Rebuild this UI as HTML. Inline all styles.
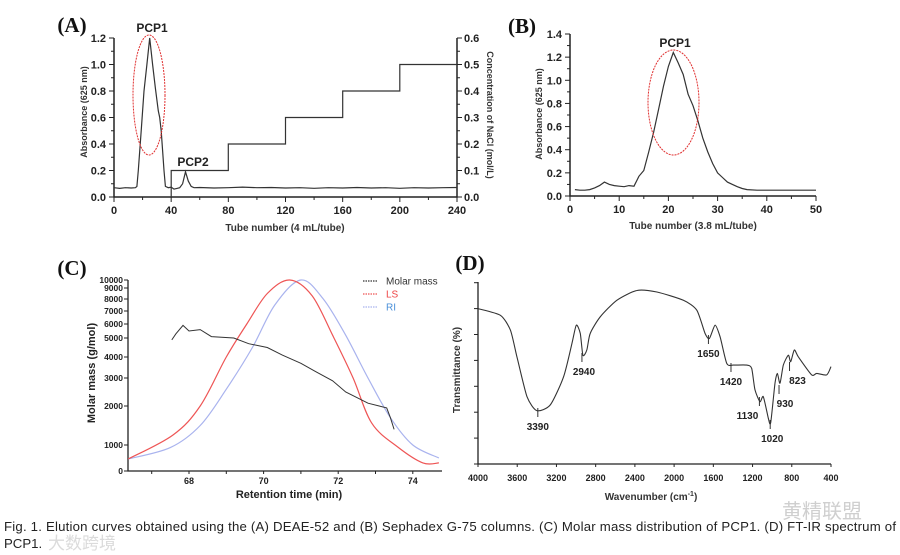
<!DOCTYPE html>
<html><head><meta charset="utf-8"><style>
html,body{margin:0;padding:0;background:#fff;}
svg{display:block;font-family:"Liberation Sans",Arial,sans-serif;}
.t{font-size:11px;font-weight:bold;fill:#222;}
.ti{font-size:10px;font-weight:bold;fill:#333;}
.pl{font-family:"Liberation Serif",serif;font-size:21px;font-weight:bold;fill:#111;}
</style></head><body>
<svg id="fig" width="900" height="555" viewBox="0 0 900 555" xmlns="http://www.w3.org/2000/svg"></svg>
<script>
// ---------- Panel A data ----------
const aTubes = [0,4,8,12,15,16,17,19,21,23,25,27,29,31,32,33,34,35,36,38,40,42,44,46,48,50,52,54,56,60,70,80,90,100,110,120,130,140,150,160,170,180,190,200,210,220,230,240];
const aAbs   = [0.07,0.065,0.07,0.068,0.07,0.08,0.2,0.5,0.8,1.0,1.2,1.0,0.82,0.65,0.6,0.5,0.35,0.2,0.08,0.07,0.075,0.06,0.065,0.07,0.1,0.19,0.12,0.08,0.07,0.072,0.068,0.07,0.075,0.07,0.072,0.068,0.07,0.066,0.07,0.068,0.072,0.068,0.07,0.066,0.07,0.068,0.07,0.072];
const aNaclTubes = [40,40,80,80,120,120,160,160,200,200,240];
const aNacl      = [0,0.1,0.1,0.2,0.2,0.3,0.3,0.4,0.4,0.5,0.5];
const aXTicks = [0,40,80,120,160,200,240];
const aYTicks = [0,0.2,0.4,0.6,0.8,1.0,1.2];
const aY2Ticks = [0,0.1,0.2,0.3,0.4,0.5,0.6];
// ---------- Panel B data ----------
const bTubes = [1,2,3,4,5,6,7,8,9,10,11,12,13,14,15,16,17,18,19,20,21,22,23,24,25,26,27,28,29,30,31,32,33,34,35,36,38,40,42,44,46,48,50];
const bAbs   = [0.055,0.05,0.05,0.055,0.07,0.09,0.12,0.1,0.09,0.085,0.08,0.09,0.085,0.17,0.22,0.38,0.55,0.75,0.95,1.12,1.24,1.15,1.05,0.88,0.78,0.65,0.5,0.38,0.28,0.2,0.16,0.12,0.1,0.08,0.065,0.055,0.05,0.05,0.05,0.05,0.05,0.05,0.05];
const bXTicks = [0,10,20,30,40,50];
const bYTicks = [0,0.2,0.4,0.6,0.8,1.0,1.2,1.4];
// ---------- Panel C data ----------
const cTicksVal = [0,1000,2000,3000,4000,5000,6000,7000,8000,9000,10000];
const cXTicks = [68,70,72,74];
const lsTime = [66.37,67.57,68.3,69.0,69.55,70.1,70.7,71.3,71.85,72.4,72.9,73.6,74.27,74.7];
const lsVal  = [460,1256,2000,4000,6000,8500,10000,8300,5200,3000,1560,920,310,310];
const riTime = [66.37,67.5,68.3,69.0,69.7,70.3,71.0,71.6,72.2,72.8,73.4,74.0,74.7];
const riVal  = [460,900,1500,2600,4500,7500,10000,8000,5200,3000,1700,1000,500];
const mmTime = [67.54,67.65,67.84,68.0,68.3,68.6,69.2,69.6,70.1,70.5,71.0,71.4,71.85,72.2,72.5,72.8,73.1,73.3,73.4,73.5];
const mmVal  = [4900,5300,5900,5500,5600,5100,5000,4700,4500,4100,3700,3300,2900,2500,2300,2100,2000,1950,1700,1400];
// ---------- Panel D data ----------
const dWave = [4000,3772,3670,3603,3500,3400,3263,3127,3042,2998,2957,2930,2890,2856,2754,2584,2380,2176,1905,1769,1684,1640,1582,1531,1463,1395,1260,1209,1175,1124,1090,1039,1015,971,947,920,886,835,811,774,733,597,546,444,400];
const dTrans = [6.0,5.74,5.17,4.14,2.6,2.06,2.28,3.37,4.65,5.36,5.04,4.2,4.4,5.04,5.68,6.32,6.7,6.64,6.32,5.94,5.04,4.85,5.36,4.91,3.88,3.82,3.82,3.69,2.86,2.41,2.6,1.77,1.6,3.12,3.5,3.12,3.82,4.2,3.95,4.4,4.14,3.44,3.5,3.44,3.76];
const dXTicks = [4000,3600,3200,2800,2400,2000,1600,1200,800,400];
const dPeaks = ["3390","2940","1650","1420","1130","1020","930","823"];
const dPeakWave = [3390,2940,1650,1420,1130,1020,930,823];
const dPeakLabelY = [430,375,357,385,419,442,407,384];
const dPeakLabelDx = [0,2,0,0,-12,2,6,8];

const svg = document.getElementById('fig');
const NS = 'http://www.w3.org/2000/svg';
function mk(tag, attrs, parent){const e=document.createElementNS(NS,tag);for(const k in attrs)e.setAttribute(k,attrs[k]);(parent||svg).appendChild(e);return e;}
function txt(str, x, y, cls, anchor, parent){const e=mk('text',{x:x,y:y,class:cls,'text-anchor':anchor||'middle'},parent);e.textContent=str;return e;}
function poly(xs, ys, fx, fy){return xs.map((v,i)=>fx(v).toFixed(1)+','+fy(ys[i]).toFixed(1)).join(' ');}
function smooth(xs, ys, fx, fy, k){
  const p = xs.map((v,i)=>[fx(v),fy(ys[i])]);
  k = k||0.5;
  let d='M'+p[0][0].toFixed(1)+','+p[0][1].toFixed(1);
  for(let i=0;i<p.length-1;i++){
    const p0=p[Math.max(0,i-1)],p1=p[i],p2=p[i+1],p3=p[Math.min(p.length-1,i+2)];
    const c1=[p1[0]+(p2[0]-p0[0])*k/3,p1[1]+(p2[1]-p0[1])*k/3];
    const c2=[p2[0]-(p3[0]-p1[0])*k/3,p2[1]-(p3[1]-p1[1])*k/3];
    d+='C'+c1.map(n=>n.toFixed(1)).join(',')+' '+c2.map(n=>n.toFixed(1)).join(',')+' '+p2[0].toFixed(1)+','+p2[1].toFixed(1);
  }
  return d;
}

// ================= Panel A =================
const gA = mk('g',{});


const axA = v => 114 + v/240*343;
const ayA = v => 197 - v/1.2*159;
const ay2A = v => 197 - v/0.6*159;
let e;
e = txt('(A)',72,32,'pl','middle',gA);


e = mk('path',{d:'M114,38V197H457V38',fill:'none',stroke:'#222','stroke-width':1.5},gA);


for(let v=0; v<=240; v+=20){mk('line',{x1:axA(v),x2:axA(v),y1:197,y2:v%40?200:202,stroke:'#222'},gA);}
aXTicks.forEach(v=>{e=txt(String(v),axA(v),214,'t','middle',gA);

});
for(let v=0; v<=1.2001; v+=0.1){mk('line',{x1:114,x2:Math.round(v*10)%2?111:109,y1:ayA(v),y2:ayA(v),stroke:'#222'},gA);mk('line',{x1:457,x2:Math.round(v*10)%2?460:462,y1:ayA(v),y2:ayA(v),stroke:'#222'},gA);}
aYTicks.forEach(v=>{e=txt(v.toFixed(1),106,ayA(v)+4,'t','end',gA);

});
aY2Ticks.forEach(v=>{e=txt(v.toFixed(1),464,ay2A(v)+4,'t','start',gA);

});
e = txt('Tube number (4 mL/tube)',285,231,'ti','middle',gA);


e = txt('Absorbance (625 nm)',0,0,'ti','middle',gA);e.setAttribute('transform','translate(87,112) rotate(-90)');e.style.fontSize='9px';


e = txt('Concentration of NaCl (mol/L)',0,0,'ti','middle',gA);e.setAttribute('transform','translate(487,115) rotate(90)');e.style.fontSize='9px';


e = mk('polyline',{points:poly(aNaclTubes,aNacl,axA,ay2A),fill:'none',stroke:'#333','stroke-width':1.2},gA);


e = mk('polyline',{points:poly(aTubes,aAbs,axA,ayA),fill:'none',stroke:'#333','stroke-width':1.2},gA);


e = mk('ellipse',{cx:149,cy:95,rx:16,ry:60,fill:'none',stroke:'#e03030','stroke-width':1,'stroke-dasharray':'2,1'},gA);


e = txt('PCP1',152,32,'t','middle',gA);e.style.fontSize='12px';


e = txt('PCP2',193,166,'t','middle',gA);e.style.fontSize='12px';



// ================= Panel B =================
const gB = mk('g',{});


const axB = v => 570 + v/50*246;
const ayB = v => 196 - v/1.4*162;
e = txt('(B)',522,33,'pl','middle',gB);


e = mk('path',{d:'M570,34V196H816',fill:'none',stroke:'#222','stroke-width':1.5},gB);


for(let v=0; v<=50; v+=5){mk('line',{x1:axB(v),x2:axB(v),y1:196,y2:v%10?199:201,stroke:'#222'},gB);}
bXTicks.forEach(v=>{e=txt(String(v),axB(v),213,'t','middle',gB);

});
for(let v=0; v<=1.4001; v+=0.1){mk('line',{x1:570,x2:Math.round(v*10)%2?567:565,y1:ayB(v),y2:ayB(v),stroke:'#222'},gB);}
bYTicks.forEach(v=>{e=txt(v.toFixed(1),562,ayB(v)+4,'t','end',gB);

});
e = txt('Tube number (3.8 mL/tube)',693,229,'ti','middle',gB);


e = txt('Absorbance (625 nm)',0,0,'ti','middle',gB);e.setAttribute('transform','translate(542,114) rotate(-90)');e.style.fontSize='9px';


e = mk('polyline',{points:poly(bTubes,bAbs,axB,ayB),fill:'none',stroke:'#333','stroke-width':1.2},gB);


e = mk('ellipse',{cx:673.5,cy:102.5,rx:25.5,ry:52.5,fill:'none',stroke:'#e03030','stroke-width':1,'stroke-dasharray':'2,1'},gB);


e = txt('PCP1',675,47,'t','middle',gB);e.style.fontSize='12px';



// ================= Panel C =================
const gC = mk('g',{});


const cTickPx = [471,445,406,378,357,338,324,311,299,288,280];
const axC = t => 189 + (t-68)*37.3;
function ayC(v){for(let i=1;i<cTicksVal.length;i++){if(v<=cTicksVal[i]){const f=(v-cTicksVal[i-1])/(cTicksVal[i]-cTicksVal[i-1]);return cTickPx[i-1]+f*(cTickPx[i]-cTickPx[i-1]);}}return cTickPx[cTickPx.length-1];}
e = txt('(C)',72,275,'pl','middle',gC);


e = mk('path',{d:'M128,280V471H442',fill:'none',stroke:'#222','stroke-width':1.3},gC);


cTicksVal.forEach(v=>{mk('line',{x1:124,x2:128,y1:ayC(v),y2:ayC(v),stroke:'#222'},gC);
e=txt(String(v),123,ayC(v)+3,'t','end',gC);e.style.fontSize='8.5px';

});
for(let t=67; t<=74.5; t+=1){mk('line',{x1:axC(t),x2:axC(t),y1:471,y2:474,stroke:'#222'},gC);}
cXTicks.forEach(v=>{e=txt(String(v),axC(v),484,'t','middle',gC);e.style.fontSize='9px';

});
e = txt('Retention time (min)',289,498,'t','middle',gC);


e = txt('Molar mass (g/mol)',0,0,'t','middle',gC);e.setAttribute('transform','translate(95,373) rotate(-90)');


e = mk('path',{d:smooth(riTime,riVal,axC,ayC),fill:'none',stroke:'#a9b3ee','stroke-width':1.2},gC);


e = mk('path',{d:smooth(lsTime,lsVal,axC,ayC),fill:'none',stroke:'#ee5555','stroke-width':1.2},gC);


e = mk('polyline',{points:poly(mmTime,mmVal,axC,ayC),fill:'none',stroke:'#333','stroke-width':1},gC);


const legC = [['Molar mass','#333','#333'],['LS','#ee5555','#ee4444'],['RI','#a9b3ee','#4a90d9']];
legC.forEach((l,i)=>{const y=281+i*13;
const g=mk('g',{},gC);


mk('line',{x1:363,x2:377,y1:y,y2:y,stroke:l[1],'stroke-dasharray':'1.5,1','stroke-width':1.2},g);
const tt=txt(l[0],386,y+3.5,'ti','start',g);tt.style.fill=l[2];tt.style.fontWeight='normal';});

// ================= Panel D =================
const gD = mk('g',{});


const axD = w => 478 + (4000-w)/3600*353;
const ayD = v => 464 - v*25.9;
e = txt('(D)',470,270,'pl','middle',gD);


e = mk('path',{d:'M478,282V464H831',fill:'none',stroke:'#222','stroke-width':1.3},gD);


for(let i=0;i<=7;i++){mk('line',{x1:474,x2:478,y1:ayD(i),y2:ayD(i),stroke:'#222'},gD);}
dXTicks.forEach(v=>{mk('line',{x1:axD(v),x2:axD(v),y1:464,y2:467,stroke:'#222'},gD);
e=txt(String(v),axD(v),481,'t','middle',gD);e.style.fontSize='9px';

});
e = txt('Wavenumber (cm',651,500,'ti','middle',gD);


const sup=mk('tspan',{dy:-4,'font-size':'7px'},e);sup.textContent='-1';
const cl=mk('tspan',{dy:4},e);cl.textContent=')';
e = txt('Transmittance (%)',0,0,'ti','middle',gD);e.setAttribute('transform','translate(460,370) rotate(-90)');


e = mk('path',{d:smooth(dWave,dTrans,axD,ayD,0.35),fill:'none',stroke:'#333','stroke-width':1.1},gD);


dPeaks.forEach((p,i)=>{const x=axD(dPeakWave[i]);const ly=dPeakLabelY[i];
const g=mk('g',{},gD);


const above = ly-13;
mk('line',{x1:x,x2:x,y1:above-9,y2:above,stroke:'#333'},g);
txt(p,x+dPeakLabelDx[i],ly,'t','middle',g).style.fontSize='10px';});

// ================= Caption / watermark =================
e = txt('Fig. 1.  Elution curves obtained using the (A) DEAE-52 and (B) Sephadex G-75 columns. (C) Molar mass distribution of PCP1. (D) FT-IR spectrum of',4,531,'','start');
e.setAttribute('style','font-size:13.2px;fill:#222;');e.setAttribute('textLength','892');


e = txt('PCP1.',4,548,'','start');e.setAttribute('style','font-size:13.2px;fill:#222;');


e = txt('黄精联盟',782,518,'','start');e.setAttribute('style','font-family:"Noto Sans CJK SC",sans-serif;font-size:20px;fill:#bbb;opacity:0.7');


e = txt('大数跨境',48,549,'','start');e.setAttribute('style','font-family:"Noto Sans CJK SC",sans-serif;font-size:17px;fill:#ccc;opacity:0.7');


</script>
</body></html>
